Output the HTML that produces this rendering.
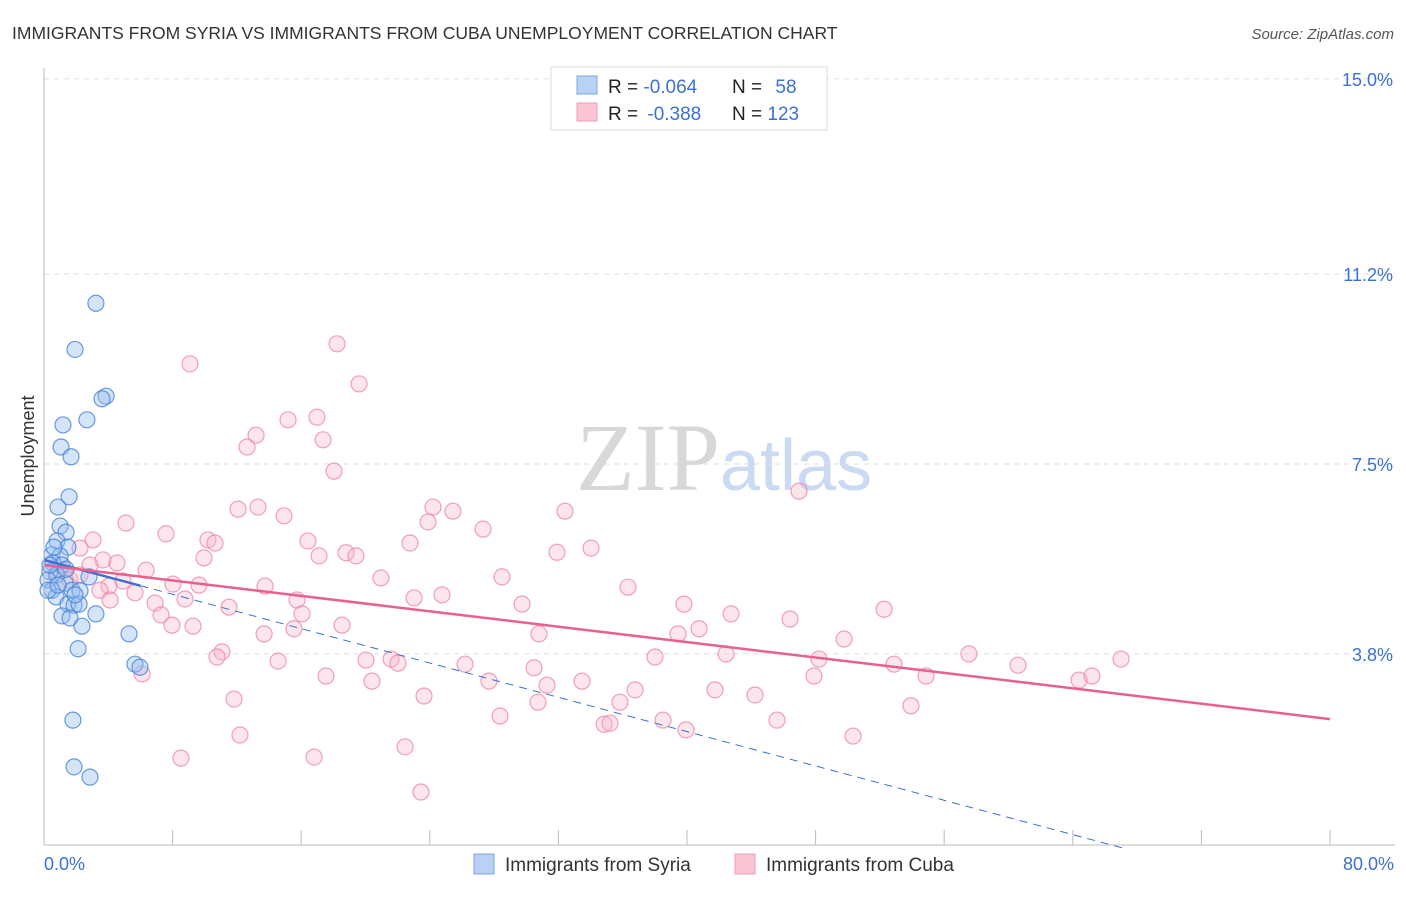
<!DOCTYPE html>
<html><head><meta charset="utf-8"><style>
body{margin:0;background:#fff;font-family:"Liberation Sans",sans-serif;}
</style></head><body>
<svg id="chart" width="1406" height="892" xmlns="http://www.w3.org/2000/svg">
<text x="12" y="39" font-size="17.5" fill="#333">IMMIGRANTS FROM SYRIA VS IMMIGRANTS FROM CUBA UNEMPLOYMENT CORRELATION CHART</text>
<text x="1394" y="39" font-size="15" fill="#555" font-style="italic" text-anchor="end">Source: ZipAtlas.com</text>
<text x="720" y="490" font-size="96" fill="#d8d8d8" text-anchor="end" font-family="Liberation Serif,serif">ZIP</text>
<text x="720" y="490" font-size="72" fill="#c9daf2">atlas</text>
<text transform="translate(34,456) rotate(-90)" font-size="18" fill="#333" text-anchor="middle">Unemployment</text>
<g id="grid"></g><g id="xt"></g><g id="pts"></g><g id="lines"></g>
<line x1="44" y1="68" x2="44" y2="845" stroke="#bbb"/>
<line x1="44" y1="845" x2="1395" y2="845" stroke="#bbb"/>
<text x="44" y="870" font-size="18" fill="#3b70d4">0.0%</text>
<text x="1394" y="870" font-size="18" fill="#3b70d4" text-anchor="end">80.0%</text>
<g>
<rect x="551" y="67" width="276" height="63" fill="#fff" stroke="#ddd"/>
<rect x="577" y="76" width="20" height="18" fill="#b9d2f4" stroke="#7aa6e6"/>
<rect x="577" y="103" width="20" height="18" fill="#fac6d6" stroke="#f09ab4"/>
<text x="608" y="93" font-size="19" fill="#222">R = <tspan fill="#3b70d4">-0.064</tspan></text>
<text x="732" y="93" font-size="19" fill="#222">N = <tspan fill="#3b70d4" dx="8">58</tspan></text>
<text x="608" y="120" font-size="19" fill="#222">R = <tspan fill="#3b70d4" dx="4">-0.388</tspan></text>
<text x="732" y="120" font-size="19" fill="#222">N = <tspan fill="#3b70d4">123</tspan></text>
</g>
<g>
<rect x="474" y="854" width="20" height="20" fill="#b9d2f4" stroke="#7aa6e6"/>
<text x="505" y="871" font-size="19" fill="#333">Immigrants from Syria</text>
<rect x="735" y="854" width="20" height="20" fill="#fac6d6" stroke="#f09ab4"/>
<text x="766" y="871" font-size="19" fill="#333">Immigrants from Cuba</text>
</g>
</svg>
<script>
const yTicks=[3.8,7.5,11.2,15.0];
const xTicks=[0,8,16,24,32,40,48,56,64,72,80];
const syriaX=[3.23,1.93,3.86,3.61,2.67,1.18,1.06,1.68,1.56,0.87,1.00,1.37,0.81,1.49,0.50,1.00,0.56,1.12,0.37,0.81,0.25,1.31,0.50,1.74,0.75,2.24,1.49,1.87,2.18,3.23,1.12,1.62,2.36,2.12,5.29,5.66,5.97,1.80,1.87,2.86,0.25,0.62,2.80,1.37,1.93,0.37,0.87];
const syriaY=[10.63,9.73,8.82,8.77,8.36,8.26,7.83,7.64,6.86,6.66,6.29,6.17,6.00,5.88,5.73,5.71,5.57,5.53,5.40,5.34,5.24,5.18,5.04,5.04,4.91,5.03,4.77,4.75,4.77,4.58,4.54,4.50,4.34,3.90,4.19,3.60,3.54,2.51,1.60,1.40,5.04,5.88,5.30,5.45,4.95,5.53,5.14];
const cubaX=[18.23,9.08,19.60,16.98,15.18,13.19,17.36,12.63,18.04,46.97,24.20,12.07,13.31,25.44,32.41,14.93,23.89,5.10,27.31,7.59,3.05,10.20,10.64,16.42,22.77,34.03,31.91,2.24,18.79,19.41,17.11,3.67,4.54,9.95,6.35,28.49,20.96,4.91,8.02,9.64,13.75,36.33,4.04,5.66,8.77,23.02,24.76,15.74,6.91,29.74,39.81,52.26,11.51,7.28,16.05,42.74,46.41,7.96,18.54,9.27,30.79,13.69,15.55,39.44,40.75,49.77,11.07,10.76,42.43,38.01,57.54,67.00,14.56,20.03,21.59,22.02,26.19,30.48,48.21,52.88,60.59,6.10,17.54,20.40,27.68,33.47,47.90,54.87,65.19,64.39,31.29,36.77,41.74,23.64,35.83,11.82,44.23,30.73,53.93,28.37,38.51,45.60,34.84,35.21,39.94,12.19,50.33,22.46,8.52,16.80,23.45,1.24,1.62,2.24,2.86,3.48,0.75,4.11];
const cubaY=[9.84,9.45,9.06,8.41,8.36,8.06,7.97,7.83,7.36,6.97,6.66,6.62,6.66,6.58,6.58,6.49,6.37,6.35,6.23,6.14,6.02,6.02,5.96,6.00,5.96,5.86,5.78,5.86,5.77,5.71,5.71,5.63,5.57,5.67,5.43,5.30,5.28,5.22,5.16,5.14,5.12,5.10,5.12,4.99,4.87,4.89,4.95,4.85,4.79,4.77,4.77,4.67,4.71,4.56,4.58,4.58,4.48,4.36,4.36,4.34,4.19,4.19,4.29,4.19,4.29,4.09,3.84,3.74,3.80,3.74,3.80,3.70,3.66,3.68,3.70,3.62,3.60,3.53,3.70,3.60,3.58,3.41,3.37,3.27,3.27,3.27,3.37,3.37,3.37,3.29,3.19,3.10,3.10,2.98,2.86,2.92,3.00,2.86,2.79,2.59,2.51,2.51,2.43,2.45,2.32,2.22,2.20,1.99,1.77,1.79,1.11,5.43,5.24,5.34,5.53,5.04,5.34,4.85];
const cubaTrend=[5.53,2.53];
const syriaTrend=[5.63,-0.0836];
const NS="http://www.w3.org/2000/svg";
const X=v=>44+v*16.075, Y=v=>849-v*51.34;
function mk(tag,attrs,parent){const e=document.createElementNS(NS,tag);for(const k in attrs)e.setAttribute(k,attrs[k]);parent.appendChild(e);return e;}
const grid=document.getElementById('grid');
for(const t of yTicks){
 const l=mk('line',{x1:44,x2:1395,y1:Y(t),y2:Y(t),stroke:'#ddd','stroke-dasharray':'5,5'},grid);
 
 
 const tx=mk('text',{x:1393,y:Y(t)+7,'font-size':18,fill:'#3b70d4','text-anchor':'end'},grid);
 tx.textContent=t.toFixed(1)+'%';
 
 
}
const xt=document.getElementById('xt');
for(const t of xTicks){
 const l=mk('line',{x1:X(t),x2:X(t),y1:830,y2:845,stroke:'#bbb'},xt);
 
 
}
const pts=document.getElementById('pts');
cubaX.forEach((x,i)=>{
 const c=mk('circle',{cx:X(x),cy:Y(cubaY[i]),r:8,fill:'rgba(248,180,200,0.35)',stroke:'rgba(236,130,165,0.75)','stroke-width':1.2},pts);
 
 
});
syriaX.forEach((x,i)=>{
 const c=mk('circle',{cx:X(x),cy:Y(syriaY[i]),r:8,fill:'rgba(150,190,240,0.4)',stroke:'rgba(70,130,215,0.8)','stroke-width':1.2},pts);
 
 
});
const lines=document.getElementById('lines');
const sy=x=>syriaTrend[0]+syriaTrend[1]*x;
const xEnd=-syriaTrend[0]/syriaTrend[1];
const d1=mk('line',{x1:X(6),y1:Y(sy(6)),x2:X(xEnd),y2:Y(0),stroke:'#3b70d4','stroke-width':1,'stroke-dasharray':'8,6'},lines);


const d2=mk('line',{x1:X(0),y1:Y(sy(0)),x2:X(6),y2:Y(sy(6)),stroke:'#3b70d4','stroke-width':2.5},lines);


const d3=mk('line',{x1:X(0),y1:Y(cubaTrend[0]),x2:X(80),y2:Y(cubaTrend[1]),stroke:'#e8608f','stroke-width':2.5},lines);


</script>
</body></html>
